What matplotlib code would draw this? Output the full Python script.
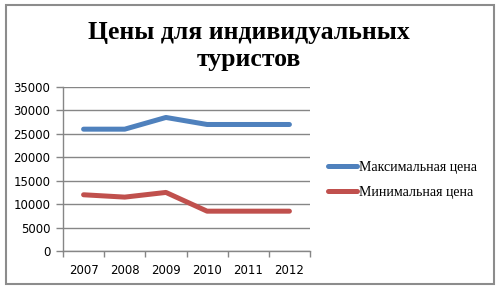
import matplotlib
matplotlib.use("Agg")
import matplotlib.pyplot as plt
from matplotlib.patches import Rectangle

# data
years = ['2007', '2008', '2009', '2010', '2011', '2012']
max_price = [26000, 26000, 28500, 27000, 27000, 27000]
min_price = [12000, 11500, 12500, 8500, 8500, 8500]
series_names = ['Максимальная цена', 'Минимальная цена']

W, H = 497, 289
fig = plt.figure(figsize=(W / 100, H / 100), dpi=100)
fig.patch.set_facecolor('white')

# outer frame of the chart
fig.patches.append(Rectangle((6 / W, 5 / H), 488 / W, 279 / H, transform=fig.transFigure,
                             fill=False, edgecolor='#8c8c8c', linewidth=1.5))

ax = fig.add_axes([63 / W, 1 - 251 / H, 247 / W, 164 / H])
x = list(range(len(years)))
ax.plot(x, max_price, color='#4F81BD', linewidth=3.6, solid_capstyle='round', label=series_names[0])
ax.plot(x, min_price, color='#C0504D', linewidth=3.6, solid_capstyle='round', label=series_names[1])

ax.set_xlim(-0.5, len(years) - 0.5)
ax.set_ylim(0, 35000)
ax.set_yticks(range(0, 35001, 5000))
ax.yaxis.grid(True, color='#868686', linewidth=1.0)
ax.set_axisbelow(True)

ax.set_xticks(x)
ax.set_xticklabels(years)
ax.set_xticks([i - 0.5 for i in range(len(years) + 1)], minor=True)
ax.tick_params(axis='x', which='major', length=0, pad=9, labelsize=8.5, colors='black')
ax.tick_params(axis='x', which='minor', length=4, width=1, color='#868686', direction='out')
ax.tick_params(axis='y', length=5, width=1, color='#868686', labelsize=8.5, pad=4)

for s in ['top', 'right']:
    ax.spines[s].set_visible(False)
for s in ['left', 'bottom']:
    ax.spines[s].set_color('#868686')
    ax.spines[s].set_linewidth(1.0)

fig.text(249 / W, 1 - 46 / H, 'Цены для индивидуальных\nтуристов', ha='center', va='center',
         fontsize=18.5, fontweight='bold', family='Liberation Serif', linespacing=1.2)

leg = ax.legend(loc='center left', bbox_to_anchor=(328 / W, 1 - 180 / H),
                bbox_transform=fig.transFigure, frameon=False, handlelength=2.1,
                handletextpad=0.1, borderpad=0, borderaxespad=0, labelspacing=0.85,
                prop={'family': 'Liberation Serif', 'size': 10})

fig.savefig('out.png', dpi=100)
